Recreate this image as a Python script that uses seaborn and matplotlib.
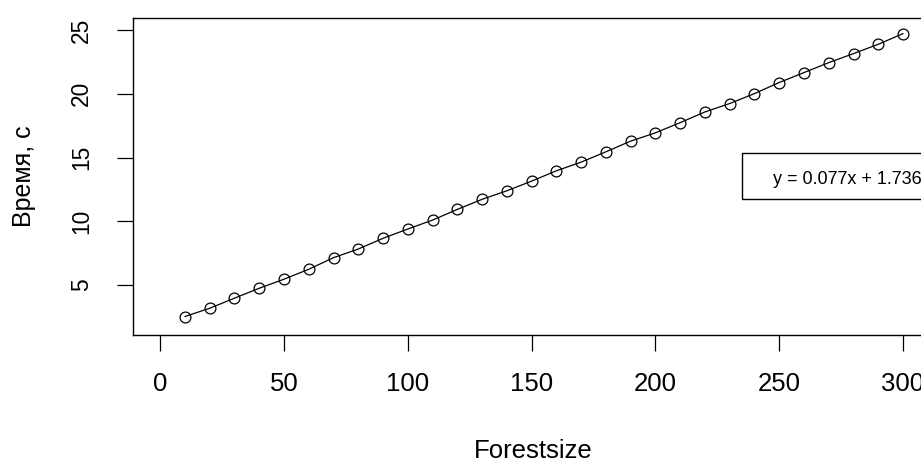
import matplotlib
matplotlib.use("Agg")
import matplotlib.pyplot as plt
import seaborn as sns
import pandas as pd
from matplotlib.patches import Rectangle

# ---- data ----
forestsize = [10, 20, 30, 40, 50, 60, 70, 80, 90, 100,
              110, 120, 130, 140, 150, 160, 170, 180, 190, 200,
              210, 220, 230, 240, 250, 260, 270, 280, 290, 300]
time_s = [2.52, 3.17, 3.96, 4.74, 5.45, 6.23, 7.14, 7.82, 8.66, 9.39,
          10.09, 10.93, 11.72, 12.39, 13.15, 13.96, 14.64, 15.45, 16.29, 16.94,
          17.74, 18.58, 19.24, 20.02, 20.89, 21.67, 22.45, 23.16, 23.89, 24.73]
x_ticks = [0, 50, 100, 150, 200, 250, 300]
y_ticks = [5, 10, 15, 20, 25]
legend_text = "y = 0.077x + 1.736"
x_label = "Forestsize"
y_label = "Время, с"

df = pd.DataFrame({"Forestsize": forestsize, "Time": time_s})

sns.set_theme(style="white")
plt.rcParams["font.family"] = ["Liberation Sans", "DejaVu Sans"]

W, H = 921, 462
fig = plt.figure(figsize=(W / 100, H / 100), dpi=100)
fig.patch.set_facecolor("white")

# axes box in pixels: left 132.7, right 934 (clipped), top 18.3, bottom 335
left_px, right_px, top_px, bot_px = 132.7, 934.0, 18.3, 335.0
ax = fig.add_axes([left_px / W, (H - bot_px) / H,
                   (right_px - left_px) / W, (bot_px - top_px) / H])
ax.set_facecolor("white")

sns.lineplot(data=df, x="Forestsize", y="Time", ax=ax, color="black",
             linewidth=0.9, marker="o", markersize=7.8,
             markerfacecolor="none", markeredgecolor="black",
             markeredgewidth=0.9)

ax.set_xlim(-11.1, 312.5)
ax.set_ylim(1.07, 25.93)
ax.set_xticks(x_ticks)
ax.set_yticks(y_ticks)
ax.grid(False)

for s in ax.spines.values():
    s.set_color("black")
    s.set_linewidth(1.0)
    s.set_visible(True)

ax.tick_params(axis="x", direction="out", length=11.5, width=0.9,
               color="black", labelsize=18.5, pad=15, labelcolor="black",
               bottom=True)
ax.tick_params(axis="y", direction="out", length=11.5, width=0.9,
               color="black", labelsize=16.4, pad=17, labelcolor="black",
               left=True, labelrotation=90)
for lab in ax.get_yticklabels():
    lab.set_va("center")

ax.set_xlabel(x_label, fontsize=18.5, color="black")
ax.set_ylabel(y_label, fontsize=18, color="black")
axw = right_px - left_px
axh = bot_px - top_px
ax.xaxis.set_label_coords(0.5, (bot_px - 451) / axh)
ax.xaxis.label.set_va("center")
ax.yaxis.set_label_coords((24 - left_px) / axw, 0.5)
ax.yaxis.label.set_va("center")

# legend box (R-style, clipped at right edge)
bx0 = (741.7 - left_px) / axw
by0 = (bot_px - 199.3) / axh
by1 = (bot_px - 153.3) / axh
ax.add_patch(Rectangle((bx0, by0), 0.4, by1 - by0, transform=ax.transAxes,
                       facecolor="white", edgecolor="black", linewidth=1.0,
                       clip_on=False, zorder=5))
ax.text((773.3 - left_px) / axw, (bot_px - 179.0) / axh, legend_text,
        transform=ax.transAxes, fontsize=13, color="black",
        ha="left", va="center", zorder=6)

fig.savefig("out.png", dpi=100, facecolor="white")
